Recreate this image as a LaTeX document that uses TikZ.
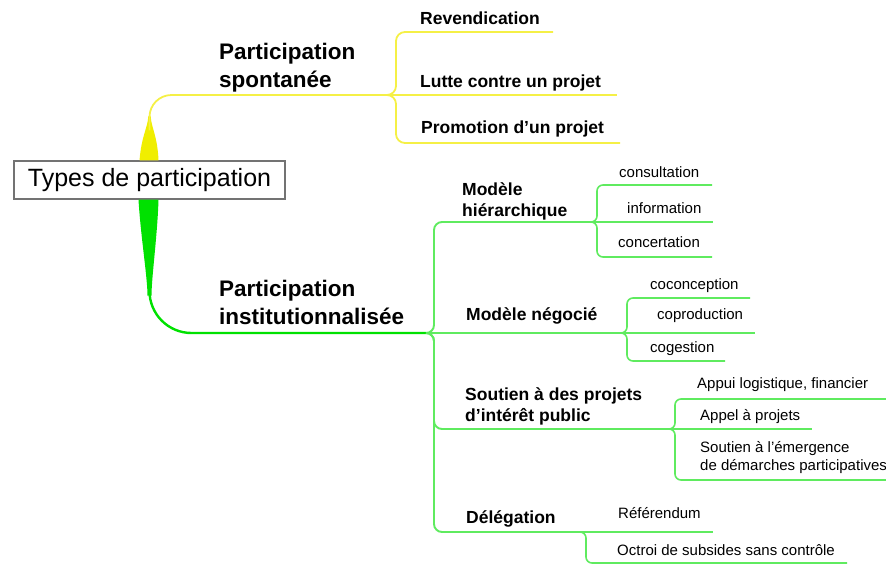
\documentclass[tikz,border=0pt]{standalone}
\usepackage{fontspec}
\setmainfont{Liberation Sans}
\usetikzlibrary{calc}

\definecolor{mmyellow}{RGB}{240,238,0}
\definecolor{mmyellowline}{RGB}{245,240,70}
\definecolor{mmgreen}{RGB}{0,225,0}
\definecolor{mmgreenline}{RGB}{95,235,95}
\definecolor{boxgray}{RGB}{115,115,115}

\tikzset{
  rootbox/.style={draw=boxgray, line width=1.2pt, fill=white,
    font=\fontsize{25}{30}\selectfont, minimum width=271pt,
    minimum height=38pt, inner sep=0pt},
  lvlone/.style={font=\fontsize{22.5}{28}\selectfont\bfseries,
    align=left, anchor=base west, inner sep=0pt},
  lvltwo/.style={font=\fontsize{17.5}{21}\selectfont\bfseries,
    align=left, anchor=base west, inner sep=0pt},
  leaf/.style={font=\fontsize{15}{18}\selectfont,
    align=left, anchor=base west, inner sep=0pt},
  ybranch/.style={draw=mmyellowline, line width=1.8pt, rounded corners=9pt},
  gbranch/.style={draw=mmgreenline, line width=1.9pt, rounded corners=8pt},
  gtwig/.style={draw=mmgreenline, line width=1.6pt, rounded corners=6pt},
}

\begin{document}
\begin{tikzpicture}[x=1pt, y=-1pt]
  \useasboundingbox (0,0) rectangle (886,566);

  % centre
  \node[rootbox] (root) at (149.5,180) {Types de participation};

  % trunks
  \fill[mmyellow] ($(root.north)+(-10,0)$) .. controls +(2,-25) and +(0,10) .. ($(root.north)+(-1.3,-44)$)
    -- ($(root.north)+(1.3,-44)$) .. controls +(0,10) and +(-1,-25) .. ($(root.north)+(9,0)$) -- cycle;
  \fill[mmgreen] ($(root.south)+(-11,0)$) .. controls +(2,35) and +(0,-18) .. ($(root.south)+(-2,96)$)
    -- ($(root.south)+(2,96)$) .. controls +(0,-18) and +(-1,35) .. ($(root.south)+(9,0)$) -- cycle;

  \coordinate (jy) at (386,95);
  \coordinate (yv) at (396,95);
  \coordinate (jg) at (426,333);
  \coordinate (gv) at (434,333);

  \draw[ybranch, rounded corners=22pt] ($(root.north)+(0,-30)$) |- (jy);
  \draw[gbranch, draw=mmgreen, line width=2.4pt, rounded corners=42pt] ($(root.south)+(0,60)$) |- (jg);

  % participation spontanee
  \node[lvlone] (spont) at (219,87) {Participation\\spontanée};
  \coordinate (revend-e) at (553,32);
  \coordinate (lutte-e) at (617,95);
  \coordinate (promo-e) at (620,143);
  \draw[ybranch] (jy) -| (yv |- revend-e) -- (revend-e);
  \draw[ybranch] (jy) -- (lutte-e);
  \draw[ybranch] (jy) -| (yv |- promo-e) -- (promo-e);
  \node[lvltwo] (revend) at (420,24) {Revendication};
  \node[lvltwo] (lutte) at (420,87) {Lutte contre un projet};
  \node[lvltwo] (promo) at (421,133) {Promotion d'un projet};

  % participation institutionnalisee
  \node[lvlone] (inst) at (219,324) {Participation\\institutionnalisée};
  \coordinate (jh) at (590,222);
  \coordinate (hv) at (597,222);
  \coordinate (jn) at (620,333);
  \coordinate (nv) at (627,333);
  \coordinate (js) at (667,429);
  \coordinate (sv) at (675,429);
  \coordinate (jd) at (578,532);
  \coordinate (dv) at (586,532);
  \coordinate (refer-e) at (713,532);

  \draw[gbranch] (jg) -| (gv |- jh) -- (jh);
  \draw[gbranch] (jg) -- (jn);
  \draw[gbranch] (jg) -| (gv |- js) -- (js);
  \draw[gbranch] (jg) -| (gv |- jd) -- (jd);

  \node[lvltwo] (hier) at (462,216) {Modèle\\hiérarchique};
  \node[lvltwo] (nego) at (466,320) {Modèle négocié};
  \node[lvltwo] (sout) at (465,421) {Soutien à des projets\\d'intérêt public};
  \node[lvltwo] (deleg) at (466,523) {Délégation};

  % modele hierarchique
  \coordinate (consult-e) at (712,185);
  \coordinate (info-e) at (713,222);
  \coordinate (concert-e) at (712,257);
  \draw[gtwig] (jh) -| (hv |- consult-e) -- (consult-e);
  \draw[gtwig] (jh) -- (info-e);
  \draw[gtwig] (jh) -| (hv |- concert-e) -- (concert-e);
  \node[leaf] (consult) at (619,177) {consultation};
  \node[leaf] (info) at (627,213) {information};
  \node[leaf] (concert) at (618,247) {concertation};

  % modele negocie
  \coordinate (cocon-e) at (750,298);
  \coordinate (coprod-e) at (755,333);
  \coordinate (coges-e) at (725,361);
  \draw[gtwig] (jn) -| (nv |- cocon-e) -- (cocon-e);
  \draw[gtwig] (jn) -- (coprod-e);
  \draw[gtwig] (jn) -| (nv |- coges-e) -- (coges-e);
  \node[leaf] (cocon) at (650,289) {coconception};
  \node[leaf] (coprod) at (657,319) {coproduction};
  \node[leaf] (coges) at (650,352) {cogestion};

  % soutien
  \coordinate (appui-e) at (886,399);
  \coordinate (appel-e) at (812,429);
  \coordinate (emerg-e) at (886,480);
  \draw[gtwig] (js) -| (sv |- appui-e) -- (appui-e);
  \draw[gtwig] (js) -- (appel-e);
  \draw[gtwig] (js) -| (sv |- emerg-e) -- (emerg-e);
  \node[leaf] (appui) at (697,388) {Appui logistique, financier};
  \node[leaf] (appel) at (700,420) {Appel à projets};
  \node[leaf] (emerg) at (700,470) {Soutien à l'émergence\\de démarches participatives};

  % delegation
  \coordinate (octroi-e) at (847,563);
  \draw[gtwig] (jd) -- (refer-e);
  \draw[gtwig] (jd) -| (dv |- octroi-e) -- (octroi-e);
  \node[leaf] (refer) at (618,518) {Référendum};
  \node[leaf] (octroi) at (617,555) {Octroi de subsides sans contrôle};
\end{tikzpicture}
\end{document}
